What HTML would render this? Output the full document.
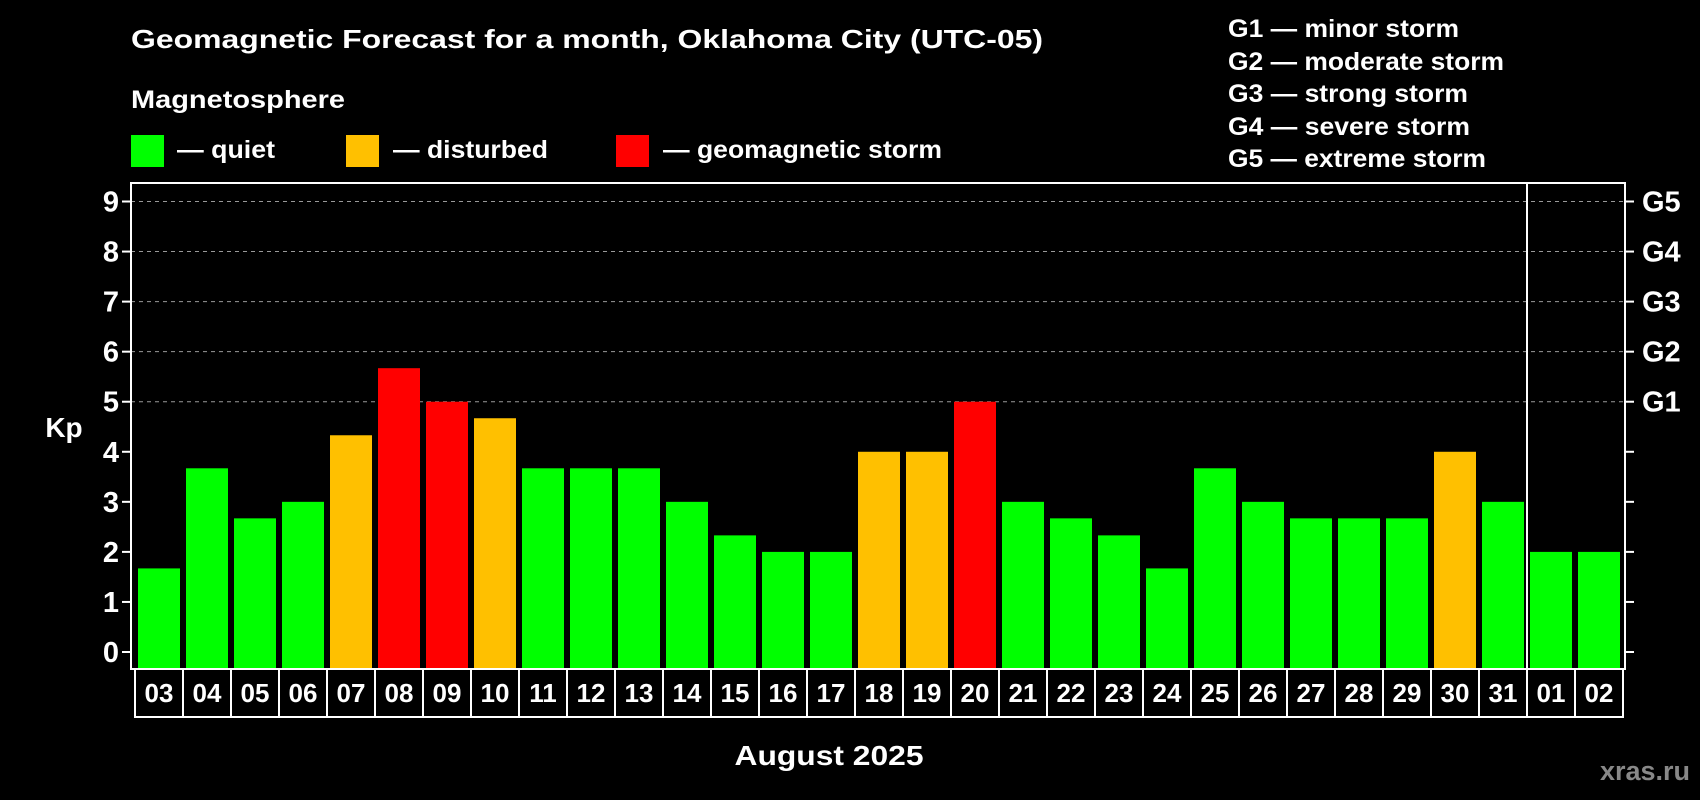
<!DOCTYPE html>
<html><head><meta charset="utf-8"><style>
html,body{margin:0;padding:0;background:#000;}
svg{display:block;font-family:"Liberation Sans",Arial,sans-serif;font-weight:bold;}
</style></head><body>
<svg id="chart" width="1700" height="800" viewBox="0 0 1700 800">
<rect width="1700" height="800" fill="#000"/>
<text x="131" y="48" fill="#fff" font-size="26" textLength="912" lengthAdjust="spacingAndGlyphs">Geomagnetic Forecast for a month, Oklahoma City (UTC-05)</text>
<text x="131" y="108" fill="#fff" font-size="25" textLength="214" lengthAdjust="spacingAndGlyphs">Magnetosphere</text>
<g><rect x="131" y="135" width="33" height="32" fill="#00ff00"/><text x="177" y="158" fill="#fff" font-size="25" textLength="98" lengthAdjust="spacingAndGlyphs">— quiet</text></g>
<g><rect x="346" y="135" width="33" height="32" fill="#ffc000"/><text x="393" y="158" fill="#fff" font-size="25" textLength="155" lengthAdjust="spacingAndGlyphs">— disturbed</text></g>
<g><rect x="616" y="135" width="33" height="32" fill="#ff0000"/><text x="663" y="158" fill="#fff" font-size="25" textLength="279" lengthAdjust="spacingAndGlyphs">— geomagnetic storm</text></g>
<g fill="#fff" font-size="25">
<text x="1228" y="37" textLength="231" lengthAdjust="spacingAndGlyphs">G1 — minor storm</text>
<text x="1228" y="70" textLength="276" lengthAdjust="spacingAndGlyphs">G2 — moderate storm</text>
<text x="1228" y="102" textLength="240" lengthAdjust="spacingAndGlyphs">G3 — strong storm</text>
<text x="1228" y="135" textLength="242" lengthAdjust="spacingAndGlyphs">G4 — severe storm</text>
<text x="1228" y="167" textLength="258" lengthAdjust="spacingAndGlyphs">G5 — extreme storm</text>
</g>
<g id="grid"></g><g id="bars"></g><g id="axes"></g>
<text x="64" y="437" fill="#fff" font-size="28" text-anchor="middle">Kp</text>
<text x="829" y="765" fill="#fff" font-size="28" text-anchor="middle" textLength="189" lengthAdjust="spacingAndGlyphs">August 2025</text>
<text x="1690" y="780" fill="#888" font-size="27" text-anchor="end">xras.ru</text>
</svg>
<script>
const days=["03","04","05","06","07","08","09","10","11","12","13","14","15","16","17","18","19","20","21","22","23","24","25","26","27","28","29","30","31","01","02"];
const kpValues=[1.67,3.67,2.67,3,4.33,5.67,5,4.67,3.67,3.67,3.67,3,2.33,2,2,4,4,5,3,2.67,2.33,1.67,3.67,3,2.67,2.67,2.67,4,3,2,2];
const yTicks=[0,1,2,3,4,5,6,7,8,9];
const gLabels=["","","","","","G1","G2","G3","G4","G5"];
const NS="http://www.w3.org/2000/svg";
const L=131,R=1625,T=183,B=669,y0=652,unit=(652-201.5)/9;
const boxL=135,step=48;
const y=v=>y0-v*unit;
const x=i=>boxL+i*step;
function mk(tag,attrs,parent,text){const e=document.createElementNS(NS,tag);for(const k in attrs)e.setAttribute(k,attrs[k]);if(text!==undefined)e.textContent=text;document.getElementById(parent).appendChild(e);return e;}
yTicks.forEach((t,i)=>{
 if(t>=5){const g=mk('line',{x1:L,x2:R,y1:y(t),y2:y(t),stroke:'#999','stroke-width':1,'stroke-dasharray':'4,4'},'grid');
 
 }
 const tl=mk('line',{x1:L-9,x2:L,y1:y(t),y2:y(t),stroke:'#fff','stroke-width':2},'axes');
 
 
 const tx=mk('text',{x:L-12,y:y(t)+10,fill:'#fff','font-size':29,'text-anchor':'end'},'axes',String(t));
 
 
 const rt=mk('line',{x1:R,x2:R+9,y1:y(t),y2:y(t),stroke:'#fff','stroke-width':2},'axes');
 
 
 if(gLabels[i]){const gt=mk('text',{x:R+17,y:y(t)+10,fill:'#fff','font-size':29},'axes',gLabels[i]);
 
 }
});
kpValues.forEach((v,i)=>{
 const c=v>=5?'#ff0000':(v>=4?'#ffc000':'#00ff00');
 const r=mk('rect',{x:x(i)+3,y:y(v),width:42,height:B-1-y(v),fill:c},'bars');
 
 
});
const fr=mk('rect',{x:L,y:T,width:R-L,height:B-T,fill:'none',stroke:'#fff','stroke-width':2},'axes');


const dv=mk('line',{x1:x(29),x2:x(29),y1:T,y2:B,stroke:'#fff','stroke-width':2},'axes');


days.forEach((d,i)=>{
 const b=mk('rect',{x:x(i),y:B,width:step,height:48,fill:'#000',stroke:'#fff','stroke-width':2},'axes');
 
 
 const t=mk('text',{x:x(i)+step/2,y:B+33,fill:'#fff','font-size':26,'text-anchor':'middle'},'axes',d);
 
 
});
</script>
</body></html>
